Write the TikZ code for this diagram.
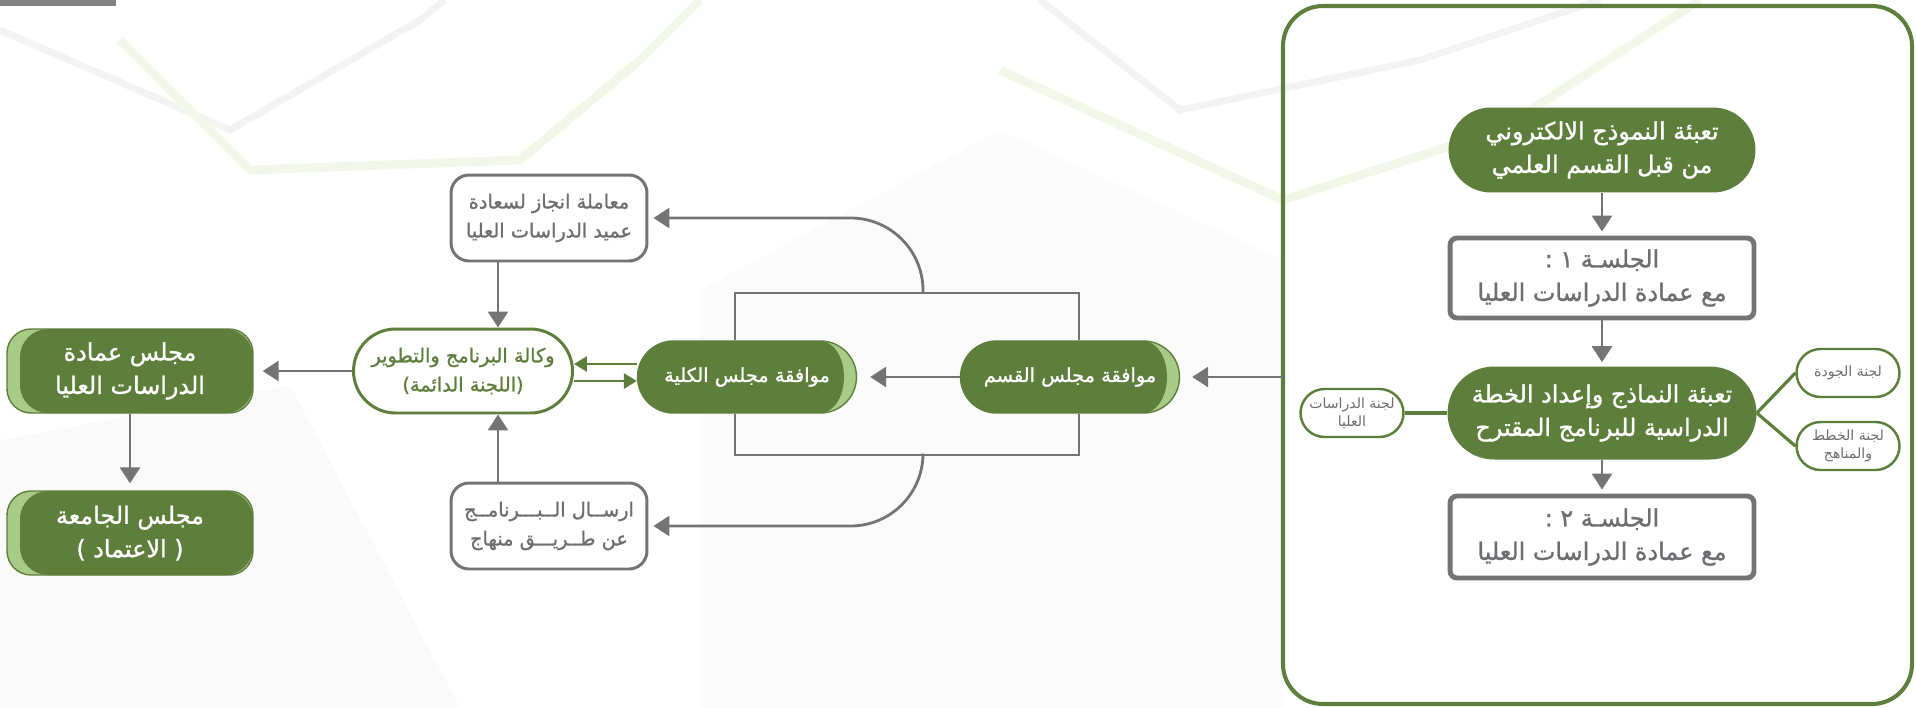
\documentclass[tikz,border=0pt]{standalone}
\usepackage{fontspec}
\newfontfamily\arabicfont[Script=Arabic, FakeBold=1.2]{DejaVu Sans}
\newfontfamily\arabiclight[Script=Arabic]{DejaVu Sans}
\TeXXeTstate=1
\usetikzlibrary{arrows.meta}
\definecolor{dkgreen}{HTML}{5E7E3C}
\definecolor{ltgreen}{HTML}{A8CB88}
\definecolor{linegray}{HTML}{757475}
\definecolor{txtgray}{HTML}{6D6E71}
\definecolor{bggreen}{HTML}{F1F8E9}
\definecolor{bggray}{HTML}{F3F3F3}
\newcommand{\ar}[1]{\beginR #1\endR}
\newcommand{\bigar}{\arabicfont\fontsize{13.6}{19}\selectfont}
\newcommand{\midar}{\arabicfont\fontsize{11}{16.5}\selectfont}
\newcommand{\smallar}{\arabiclight\fontsize{8}{10.5}\selectfont}

\begin{document}
\begin{tikzpicture}[x=0.02cm, y=-0.02cm,
  leftbox/.style={draw=dkgreen, line width=0.8pt, fill=ltgreen, rounded corners=0.48cm,
    minimum width=4.92cm, minimum height=1.68cm, inner sep=0pt, text=white, align=center, font=\bigar,
    path picture={\fill[dkgreen, rounded corners=0.56cm]
      ([xshift=0.26cm]path picture bounding box.south west) rectangle (path picture bounding box.north east);}},
  rightbox/.style={draw=dkgreen, line width=0.8pt, fill=ltgreen, rounded corners=0.72cm,
    minimum width=4.38cm, minimum height=1.44cm, inner sep=0pt, text=white, align=center, font=\midar,
    path picture={\fill[dkgreen, sharp corners] (path picture bounding box.south west)
      rectangle ([xshift=-0.72cm]path picture bounding box.north east);
      \fill[dkgreen, sharp corners] ([xshift=-0.72cm]path picture bounding box.east) ellipse [x radius=0.47cm, y radius=0.72cm];}},
  pill/.style={fill=dkgreen, inner sep=0pt, text=white, align=center, font=\bigar},
  whitebox/.style={draw=linegray, line width=1.7pt, fill=white, rounded corners=0.36cm,
    minimum width=3.92cm, minimum height=1.72cm, inner sep=0pt, text=txtgray, align=center, font=\midar},
  vpbox/.style={draw=dkgreen, line width=1.7pt, fill=white, rounded corners=0.84cm,
    minimum width=4.38cm, minimum height=1.68cm, inner sep=0pt, text=dkgreen, align=center, font=\midar},
  session/.style={draw=linegray, line width=2.8pt, fill=white, rounded corners=0.14cm,
    minimum width=6.08cm, inner sep=0pt, text=txtgray, align=center, font=\bigar},
  cmt/.style={draw=dkgreen, line width=1.4pt, fill=white, rounded corners=0.48cm,
    minimum width=2.06cm, minimum height=0.96cm, inner sep=0pt, text=txtgray, align=center, font=\smallar},
  arrowline/.style={draw=linegray, line width=1.6pt, -{Triangle[length=0.32cm,width=0.4cm]}},
  greenarrow/.style={draw=dkgreen, line width=1.6pt, -{Triangle[length=0.26cm,width=0.3cm]}},
  greenline/.style={draw=dkgreen, line width=1.8pt}]

\useasboundingbox (0,0) rectangle (1916,707);

% background
\fill[bggray!40] (0,440) -- (290,385) -- (460,707) -- (0,707) -- cycle;
\fill[bggray!35] (700,290) -- (1000,130) -- (1283,260) -- (1283,707) -- (700,707) -- cycle;
\draw[bggray, line width=4pt] (0,30) -- (230,130) -- (420,20) -- (445,0);
\draw[bggreen, line width=5pt] (120,40) -- (250,170) -- (520,160) -- (640,60) -- (700,0);
\draw[bggray, line width=4pt] (1040,0) -- (1180,110) -- (1420,60) -- (1600,0);
\draw[bggreen, line width=5pt] (1000,70) -- (1283,200) -- (1500,130) -- (1700,0);
\fill[linegray!90] (0,0) rectangle (116,6);

% frame
\draw[dkgreen, line width=2.3pt, rounded corners=0.8cm] (1283,6) rectangle (1912,704);
\coordinate (fl) at (1283,377);

% left column
\node[leftbox] (dgs) at (130,371) {\ar{مجلس عمادة}\\\ar{الدراسات العليا}};
\node[leftbox] (uc) at (130,533) {\ar{مجلس الجامعة}\\\ar{( الاعتماد )}};

% middle
\node[whitebox] (dean) at (549,218) {\ar{معاملة انجاز لسعادة}\\\ar{عميد الدراسات العليا}};
\node[vpbox] (vp) at (463,371) {\ar{وكالة البرنامج والتطوير}\\\ar{(اللجنة الدائمة)}};
\node[whitebox] (send) at (549,526) {\ar{ارســال الــبـــرنامــج}\\\ar{عن طــريـــق منهاج}};
\node[rightbox] (fc) at (747,377) {\ar{موافقة مجلس الكلية}};
\node[rightbox] (ds) at (1070,377) {\ar{موافقة مجلس القسم}};

% right column
\node[pill, rounded corners=0.85cm, minimum width=6.14cm, minimum height=1.70cm] (form) at (1602,150)
  {\ar{تعبئة النموذج الالكتروني}\\\ar{من قبل القسم العلمي}};
\node[session, minimum height=1.60cm] (s1) at (1602,278) {\ar{الجلسـة ١ :}\\\ar{مع عمادة الدراسات العليا}};
\node[pill, rounded corners=0.93cm, minimum width=6.18cm, minimum height=1.86cm] (prep) at (1602,413)
  {\ar{تعبئة النماذج وإعداد الخطة}\\\ar{الدراسية للبرنامج المقترح}};
\node[session, minimum height=1.64cm] (s2) at (1602,537) {\ar{الجلسـة ٢ :}\\\ar{مع عمادة الدراسات العليا}};
\node[cmt] (hsc) at (1352,413) {\ar{لجنة الدراسات}\\\ar{العليا}};
\node[cmt] (qc) at (1848,373) {\ar{لجنة الجودة}};
\node[cmt] (pc) at (1848,446) {\ar{لجنة الخطط}\\\ar{والمناهج}};

% helper coordinates
\coordinate (vx) at (498,0);
\coordinate (rl) at (735,0);
\coordinate (rr) at (1079,0);
\coordinate (ax) at (923,0);
\coordinate (rtop) at (0,293);
\coordinate (rbot) at (0,455);
\coordinate (gup) at (0,364);
\coordinate (gdn) at (0,381);

% connectors
\draw[arrowline, shorten >=0.18cm] (vp.west) -- (dgs.east);
\draw[arrowline, shorten >=0.14cm] (dgs.south) -- (uc.north);
\draw[arrowline] (dean.south -| vx) -- (vx |- vp.north);
\draw[arrowline] (send.north -| vx) -- (vx |- vp.south);
\draw[greenarrow] (fc.west |- gup) -- (vp.east |- gup);
\draw[greenarrow] (vp.east |- gdn) -- (fc.west |- gdn);
\draw[arrowline, shorten >=0.26cm] (ds.west) -- (fc.east);
\draw[linegray, line width=1.6pt] (fc.north -| rl) -- (rl |- rtop) -- (rr |- rtop) -- (ds.north -| rr);
\draw[linegray, line width=1.6pt] (fc.south -| rl) -- (rl |- rbot) -- (rr |- rbot) -- (ds.south -| rr);
\draw[arrowline, rounded corners=1.45cm, shorten >=0.1cm] (ax |- rtop) |- (dean.east);
\draw[arrowline, rounded corners=1.45cm, shorten >=0.1cm] (ax |- rbot) |- (send.east);
\draw[arrowline, shorten >=0.24cm] (fl) -- (ds.east);

\draw[arrowline, shorten >=0.08cm] (form.south) -- (s1.north);
\draw[arrowline, shorten >=0.08cm] (s1.south) -- (prep.north);
\draw[arrowline, shorten >=0.08cm] (prep.south) -- (s2.north);
\draw[greenline] (hsc.east) -- (prep.west);
\draw[greenline] (prep.east) -- (qc.west);
\draw[greenline] (prep.east) -- (pc.west);

\end{tikzpicture}
\end{document}
